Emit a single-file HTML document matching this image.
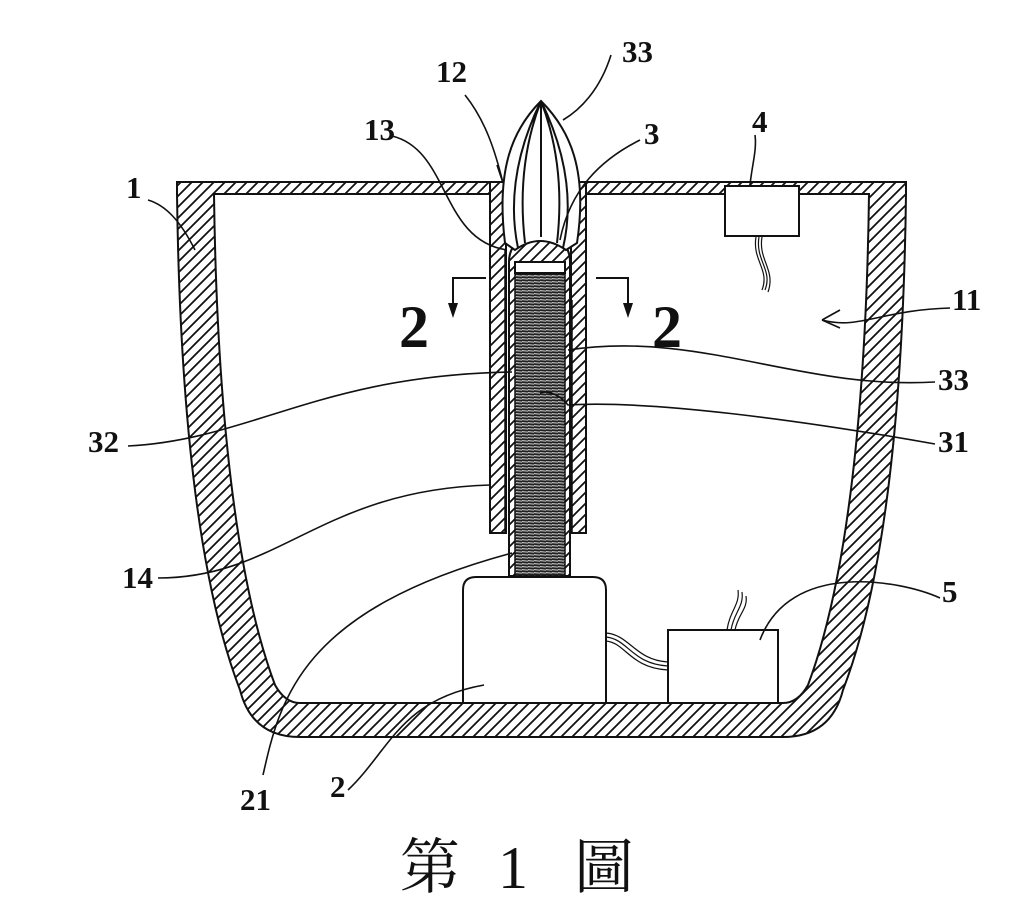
<!DOCTYPE html>
<html><head><meta charset="utf-8"><style>
html,body{margin:0;padding:0;background:#fff;width:1024px;height:897px;overflow:hidden}
svg{display:block}
.l{font-family:"Liberation Serif","Noto Serif CJK SC",serif;font-size:31px;fill:#111;font-weight:bold}
.t{font-family:"Liberation Serif","Noto Serif CJK TC","Noto Serif CJK SC",serif;font-size:60px;fill:#111}
</style></head><body>
<svg width="1024" height="897" viewBox="0 0 1024 897" xmlns="http://www.w3.org/2000/svg">
<defs>
<pattern id="h" width="11" height="11" patternUnits="userSpaceOnUse">
<rect width="11" height="11" fill="#fff"/>
<path d="M0,11 L11,0 M-3,3 L3,-3 M8,14 L14,8" stroke="#111" stroke-width="1.8"/>
</pattern>
<pattern id="s" width="6" height="3" patternUnits="userSpaceOnUse">
<rect width="6" height="3" fill="#fff"/>
<path d="M0,1.2 L6,1.6" stroke="#222" stroke-width="2.2"/>
</pattern>
</defs>
<g stroke="#111" stroke-width="2" fill="none">
<path fill="url(#h)" d="M177,182 L906,182 L906,194 C904,350 893,560 843,690 Q831,737 783,737 L300,737 Q252,737 240,690 C190,560 179,350 177,194 Z"/>
<path fill="#fff" d="M214,194 L869,194 C867,350 855,560 808,685 Q798,703 783,703 L300,703 Q285,703 275,685 C228,560 216,350 214,194 Z"/>
<rect x="490" y="182" width="16" height="351" fill="url(#h)"/>
<rect x="571" y="182" width="15" height="351" fill="url(#h)"/>
<rect x="507" y="181" width="63" height="15" fill="#fff" stroke="none"/>
<line x1="505" y1="250" x2="505" y2="533" stroke-width="1.5"/>
<line x1="572" y1="300" x2="572" y2="533" stroke-width="1.5"/>
<path fill="url(#h)" d="M509,576 L509,262 Q509,237 540,237 Q570,237 570,262 L570,576 Z"/>
<rect x="515" y="262" width="50" height="11" fill="#fff"/>
<rect x="515" y="274" width="50" height="302" fill="url(#s)" stroke-width="1.5"/>
<path fill="#fff" d="M541,101 C512,130 496,170 505,243 L515,250 Q540,232 566,250 L577,243 C588,170 570,130 541,101 Z"/>
<path d="M541,101 C522,150 520,200 525,243 M541,101 C560,150 562,200 557,243 M541,101 L541,237 M541,101 C512,160 510,210 518,248 M541,101 C570,160 572,210 563,248"/>
<path fill="#fff" d="M463,703 L463,590 Q463,577 476,577 L593,577 Q606,577 606,590 L606,703 Z"/>
<rect x="668" y="630" width="110" height="73" fill="#fff"/>
<path d="M606,633 C630,635 635,660 668,662 M606,637 C628,639 632,664 668,666 M606,641 C626,643 630,668 668,670" stroke-width="1.2"/>
<path d="M727,630 C730,610 740,605 738,590 M731,630 C734,612 744,607 742,592 M735,630 C738,614 748,609 746,596" stroke-width="1.2"/>
<rect x="725" y="186" width="74" height="50" fill="#fff"/>
<path d="M756,237 C752,260 770,270 762,290 M759,237 C755,260 773,270 765,290 M762,237 C758,260 776,270 768,292" stroke-width="1.2"/>
<path d="M486,278 L453,278 L453,305 M596,278 L628,278 L628,305"/>
</g>
<path d="M448,303 L458,303 L453,318 Z M623,303 L633,303 L628,318 Z" fill="#111"/>
<g stroke="#111" stroke-width="1.6" fill="none">
<path d="M611,55 C600,90 580,110 563,120"/>
<path d="M465,95 C485,120 495,150 503,183 M497,165 L503,183"/>
<path d="M392,136 C450,150 440,240 507,250"/>
<path d="M640,140 C600,160 570,190 560,240"/>
<path d="M755,135 C757,150 752,165 750,185"/>
<path d="M148,200 C165,205 180,220 195,250"/>
<path d="M950,308 C880,310 860,330 822,320 M822,320 L840,310 M822,320 L840,328"/>
<path d="M935,382 C800,390 700,330 568,350"/>
<path d="M935,444 C800,420 650,400 568,405 C560,395 548,390 540,393"/>
<path d="M128,446 C250,440 320,375 512,372"/>
<path d="M158,578 C280,578 320,490 490,485"/>
<path d="M940,598 C900,580 790,560 760,640"/>
<path d="M263,775 C280,700 300,610 512,553"/>
<path d="M348,790 C390,750 400,700 484,685"/>
</g>
<g class="l">
<text x="622" y="62">33</text>
<text x="436" y="82">12</text>
<text x="364" y="140">13</text>
<text x="644" y="144">3</text>
<text x="752" y="132">4</text>
<text x="126" y="198">1</text>
<text x="952" y="310">11</text>
<text x="938" y="390">33</text>
<text x="938" y="452">31</text>
<text x="88" y="452">32</text>
<text x="122" y="588">14</text>
<text x="942" y="602">5</text>
<text x="240" y="810">21</text>
<text x="330" y="797">2</text>
</g>
<text x="399" y="347" style="font-family:'Liberation Serif',serif;font-weight:bold;font-size:60px;fill:#111">2</text>
<text x="652" y="347" style="font-family:'Liberation Serif',serif;font-weight:bold;font-size:60px;fill:#111">2</text>
<text class="t" x="400" y="888">第</text>
<text class="t" x="498" y="888">1</text>
<text class="t" x="574" y="888">圖</text>
</svg>
</body></html>
